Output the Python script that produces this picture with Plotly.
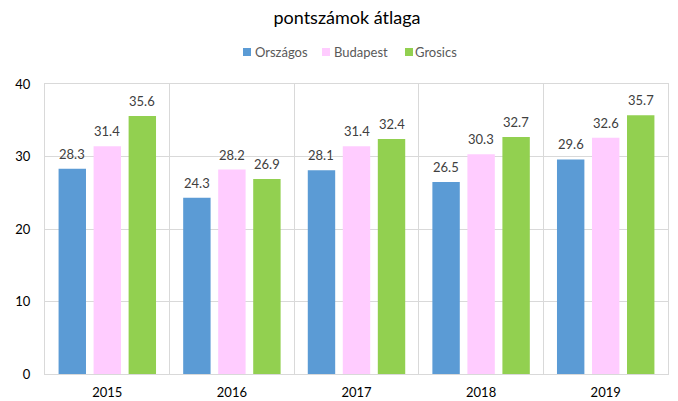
import plotly.graph_objects as go

years = ["2015", "2016", "2017", "2018", "2019"]
orszagos = [28.3, 24.3, 28.1, 26.5, 29.6]
budapest = [31.4, 28.2, 31.4, 30.3, 32.6]
grosics = [35.6, 26.9, 32.4, 32.7, 35.7]

names = ["Országos", "Budapest", "Grosics"]
colors = ["#5B9BD5", "#FFCCFF", "#92D050"]
values = [orszagos, budapest, grosics]

W, H = 678, 401
ML, MR, MT, MB = 45, 10, 84, 27
BARGAP = 0.157
plot_w = W - ML - MR
plot_h = H - MT - MB
slot = plot_w / len(years) * (1 - BARGAP) / len(names)

fig = go.Figure()
for name, vals, col in zip(names, values, colors):
    fig.add_trace(go.Bar(
        x=years, y=vals, name=name,
        marker=dict(color=col, line=dict(width=0)),
        showlegend=False,
    ))

annotations = []
# data labels (x given as category index so numeric-looking labels stay categories)
for i, (vals, col) in enumerate(zip(values, colors)):
    for j, v in enumerate(vals):
        annotations.append(dict(
            x=j, y=v, xref="x", yref="y", text=f"{v:.1f}",
            showarrow=False, xanchor="center", yanchor="middle",
            xshift=(i - 1) * slot, yshift=15,
            font=dict(size=13, color="#404040", family="Lato"),
        ))

# custom compact legend (like the original)
def px_x(p):
    return (p - ML) / plot_w

def px_y(p):
    return (H - MB - p) / plot_h

leg_cy = 52
sq_left = [243, 322, 405]
txt_left = [253, 332, 413]
shapes = []
for name, col, sx, tx in zip(names, colors, sq_left, txt_left):
    shapes.append(dict(
        type="rect", xref="paper", yref="paper",
        x0=px_x(sx), x1=px_x(sx + 8),
        y0=px_y(leg_cy + 4), y1=px_y(leg_cy - 4),
        fillcolor=col, line=dict(width=0),
    ))
    annotations.append(dict(
        x=px_x(tx), y=px_y(leg_cy), xref="paper", yref="paper",
        text=name, showarrow=False, xanchor="left", yanchor="middle",
        font=dict(size=13, color="#595959", family="Lato"),
    ))

fig.update_layout(
    width=W, height=H,
    margin=dict(l=ML, r=MR, t=MT, b=MB),
    paper_bgcolor="white", plot_bgcolor="white",
    barmode="group", bargap=BARGAP, bargroupgap=0.217,
    font=dict(family="Lato", color="#000000"),
    title=dict(text="pontszámok átlaga", xref="container", x=347 / W,
               xanchor="center", yref="container", y=1 - 18 / H,
               yanchor="middle",
               font=dict(size=18, color="#000000", family="Lato")),
    showlegend=False,
    annotations=annotations,
    shapes=shapes,
)
fig.update_xaxes(
    type="category", tickson="boundaries", showgrid=True,
    gridcolor="#D9D9D9", gridwidth=1,
    showline=True, linecolor="#D9D9D9", mirror=True,
    ticks="", tickfont=dict(size=13, color="#000000"),
    ticklabelstandoff=6, automargin=False,
)
fig.update_yaxes(
    range=[0, 40], dtick=10, showgrid=True, gridcolor="#D9D9D9",
    showline=True, linecolor="#D9D9D9", mirror=True,
    zeroline=False, ticks="", tickfont=dict(size=13, color="#000000"),
    ticklabelstandoff=11, automargin=False,
)

fig.write_html("out.html",
               config={"displayModeBar": False},
               post_script="document.body.style.margin='0px';")
